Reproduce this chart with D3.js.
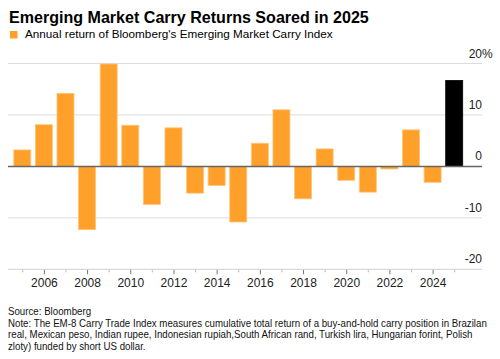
<!DOCTYPE html>
<html><head><meta charset="utf-8">
<script src="https://cdn.jsdelivr.net/npm/d3@7"></script>
<style>body{margin:0;background:#fff}svg{display:block;font-family:"Liberation Sans",Arial,sans-serif}</style>
</head><body><svg id="c" width="500" height="359"></svg>
<script>
const years = [2005,2006,2007,2008,2009,2010,2011,2012,2013,2014,2015,2016,2017,2018,2019,2020,2021,2022,2023,2024,2025];
const returns = [3.2,8.1,14.2,-12.3,19.9,8.0,-7.4,7.5,-5.2,-3.7,-10.8,4.5,11.0,-6.3,3.4,-2.7,-5.0,-0.5,7.1,-3.1,16.7];
const yTicks = [20,10,0,-10,-20];
const xTickYears = [2006,2008,2010,2012,2014,2016,2018,2020,2022,2024];
const title = "Emerging Market Carry Returns Soared in 2025";
const legendLabel = "Annual return of Bloomberg's Emerging Market Carry Index";
const footer = ["Source: Bloomberg",
 "Note: The EM-8 Carry Trade Index measures cumulative total return of a buy-and-hold carry position in Brazilan",
 "real, Mexican peso, Indian rupee, Indonesian rupiah,South African rand, Turkish lira, Hungarian forint, Polish",
 "zloty) funded by short US dollar."];

const svg = d3.select("#c");
const x = d3.scaleLinear().domain([2004.338, 2026.287]).range([8, 482]);
const y = d3.scaleLinear().domain([-20, 20]).range([269.3, 63.5]);
const bw = 17;

function fit(sel, target){
  const w = sel.node().getComputedTextLength();
  const fs = parseFloat(sel.attr("font-size"));
  return fs * target / w;
}

const t = svg.append("text").attr("x",9).attr("y",23).attr("font-size",16.5).attr("font-weight","bold").attr("fill","#000").text(title);
t.attr("font-size", fit(t, 360));
svg.append("rect").attr("x",10).attr("y",31).attr("width",7.5).attr("height",7.5).attr("fill","#FFA02B");
const lg = svg.append("text").attr("x",25).attr("y",37.5).attr("font-size",12.4).attr("fill","#000").text(legendLabel);
lg.attr("font-size", fit(lg, 308));

// gridlines
svg.append("g").selectAll("line").data(yTicks.filter(d=>d!==0 && d!==-20)).join("line")
  .attr("x1",8).attr("x2",482).attr("y1",d=>y(d)).attr("y2",d=>y(d))
  .attr("stroke","#dcdcdc").attr("stroke-width",1);

// y labels
svg.append("g").selectAll("text").data(yTicks).join("text")
  .attr("x",482).attr("y",d=>y(d)-6).attr("font-size",12).attr("fill","#222")
  .attr("text-anchor","end")
  .text(d=>String(d))
  .each(function(d){ if(d===20){ d3.select(this).append("tspan").text("%"); d3.select(this).attr("text-anchor","start").attr("x",482-13.3);} });

// bars
svg.append("g").selectAll("rect").data(years.map((yr,i)=>({yr,v:returns[i]}))).join("rect")
  .attr("x",d=>x(d.yr)-bw/2).attr("width",bw)
  .attr("y",d=>y(Math.max(0,d.v))).attr("height",d=>Math.abs(y(d.v)-y(0)))
  .attr("fill",d=>d.yr===2025?"#000":"#FFA02B")
  .attr("stroke",d=>d.yr===2025?"#000":"#FFC47A").attr("stroke-width",0.8);

// zero line
svg.append("line").attr("x1",8).attr("x2",482).attr("y1",y(0)).attr("y2",y(0)).attr("stroke","#666").attr("stroke-width",1.5);

// bottom axis
const xAxis = d3.axisBottom(x).tickValues(years).tickSize(0).tickFormat(d=>xTickYears.includes(d)?String(d):"");
const ax = svg.append("g").attr("transform",`translate(0,${y(-20)})`).call(xAxis);
ax.select(".domain").remove();
ax.append("line").attr("x1",8).attr("x2",482).attr("stroke","#d0d0d0");
ax.selectAll(".tick line").attr("y2",d=>xTickYears.includes(d)?5:3).attr("stroke",d=>xTickYears.includes(d)?"#777":"#bbb");
ax.selectAll(".tick text").attr("y",9).attr("dy","0.71em").attr("font-size",12).attr("fill","#222").attr("font-family","Liberation Sans, Arial, sans-serif");

// footer (horizontally condensed to match the reference's narrower face)
const fg = svg.append("g");
const ft = fg.selectAll("text").data(footer).join("text")
  .attr("x",0).attr("y",(d,i)=>315+i*11.6).attr("font-size",10.6).attr("fill","#111").text(d=>d);
const ratio = 479 / ft.nodes()[1].getComputedTextLength();
fg.attr("transform",`translate(8,0) scale(${ratio},1)`);
</script></body></html>
